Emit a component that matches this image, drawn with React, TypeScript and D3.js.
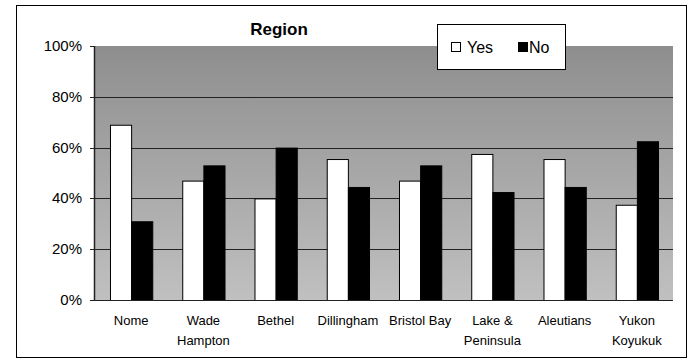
import React from "react";
import * as d3 from "d3";

const categories: string[][] = [
  ["Nome"],
  ["Wade", "Hampton"],
  ["Bethel"],
  ["Dillingham"],
  ["Bristol Bay"],
  ["Lake &", "Peninsula"],
  ["Aleutians"],
  ["Yukon", "Koyukuk"],
];
const yesValues = [69, 47, 40, 55.5, 47, 57.5, 55.5, 37.5];
const noValues = [31, 53, 60, 44.5, 53, 42.5, 44.5, 62.5];
const yTicks = [0, 20, 40, 60, 80, 100];
const seriesNames = ["Yes", "No"];

const W = 694;
const H = 359;
const plot = { left: 95, right: 673, top: 46, bottom: 300 };

export default function App() {
  const keys = categories.map((c) => c.join(" "));
  const x = d3
    .scaleBand<string>()
    .domain(keys)
    .range([plot.left, plot.right])
    .paddingInner(0.415)
    .paddingOuter(0.2075);
  const y = d3.scaleLinear().domain([0, 100]).range([plot.bottom, plot.top]);
  const bw = x.bandwidth() / 2;
  const font = "Arial, 'Liberation Sans', sans-serif";

  return (
    <svg
      width={W}
      height={H}
      style={{ position: "absolute", left: 0, top: 0, display: "block" }}
      fontFamily={font}
    >
      <defs>
        <linearGradient id="bg" x1="0" y1="0" x2="0" y2="1">
          <stop offset="0%" stopColor="#8e8e8e" />
          <stop offset="100%" stopColor="#c0c0c0" />
        </linearGradient>
      </defs>
      <rect x={0} y={0} width={W} height={H} fill="#fff" />
      <rect x={16.5} y={5.5} width={670} height={352} fill="#fff" stroke="#000" strokeWidth={1} />
      <rect
        x={plot.left}
        y={plot.top}
        width={plot.right - plot.left}
        height={plot.bottom - plot.top}
        fill="url(#bg)"
      />
      {yTicks.filter((t) => t > 0 && t < 100).map((t) => (
        <line
          key={t}
          x1={plot.left}
          x2={plot.right}
          y1={Math.round(y(t)) + 0.5}
          y2={Math.round(y(t)) + 0.5}
          stroke="#222"
          strokeWidth={1}
        />
      ))}
      {keys.map((k, i) => (
        <g key={k}>
          <rect
            x={x(k)! + 0.5}
            y={y(yesValues[i]) + 0.5}
            width={bw}
            height={y(0) - y(yesValues[i])}
            fill="#fff"
            stroke="#000"
            strokeWidth={1}
          />
          <rect
            x={x(k)! + bw + 0.5}
            y={y(noValues[i]) + 0.5}
            width={bw}
            height={y(0) - y(noValues[i])}
            fill="#000"
            stroke="#000"
            strokeWidth={1}
          />
        </g>
      ))}
      <line x1={plot.left - 0.5} x2={plot.left - 0.5} y1={plot.top} y2={plot.bottom} stroke="#222" strokeWidth={1.5} />
      <line x1={plot.left} x2={plot.right} y1={plot.bottom + 0.5} y2={plot.bottom + 0.5} stroke="#222" strokeWidth={1} />
      {yTicks.map((t) => (
        <g key={t}>
          <line
            x1={plot.left - 5}
            x2={plot.left}
            y1={Math.round(y(t)) + 0.5}
            y2={Math.round(y(t)) + 0.5}
            stroke="#222"
          />
          <text x={plot.left - 13} y={y(t) + 5} textAnchor="end" fontSize={15} fill="#000">
            {t}%
          </text>
        </g>
      ))}
      {categories.map((lines, i) => (
        <text
          key={keys[i]}
          x={x(keys[i])! + x.bandwidth() / 2}
          y={325}
          textAnchor="middle"
          fontSize={13}
          fill="#000"
        >
          {lines.map((l, j) => (
            <tspan key={j} x={x(keys[i])! + x.bandwidth() / 2} dy={j === 0 ? 0 : 20}>
              {l}
            </tspan>
          ))}
        </text>
      ))}
      <text x={279} y={35} textAnchor="middle" fontSize={17} fontWeight="bold" fill="#000">
        Region
      </text>
      <rect x={437.5} y={24.5} width={128} height={45} fill="#fff" stroke="#000" strokeWidth={1} />
      <rect x={451.5} y={42.5} width={9} height={9} fill="#fff" stroke="#000" />
      <text x={467} y={53} fontSize={16} fill="#000">
        {seriesNames[0]}
      </text>
      <rect x={518.5} y={42.5} width={9} height={9} fill="#000" stroke="#000" />
      <text x={529} y={53} fontSize={16} fill="#000">
        {seriesNames[1]}
      </text>
    </svg>
  );
}
